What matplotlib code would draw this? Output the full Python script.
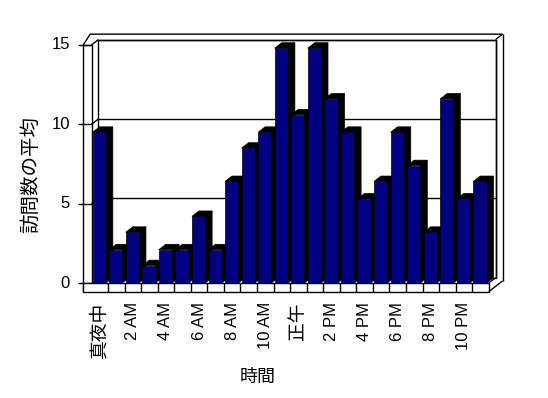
import matplotlib.pyplot as plt
from matplotlib.patches import Polygon, Rectangle

# data
hours = list(range(24))
visits = [9.5, 2.1, 3.2, 1.1, 2.1, 2.1, 4.2, 2.1, 6.4, 8.5, 9.5, 14.8,
          10.6, 14.8, 11.6, 9.5, 5.3, 6.4, 9.5, 7.4, 3.2, 11.6, 5.3, 6.4]
hour_labels = ['真夜中', '2 AM', '4 AM', '6 AM', '8 AM', '10 AM',
               '正午', '2 PM', '4 PM', '6 PM', '8 PM', '10 PM']
yticks = [0, 5, 10, 15]

plt.rcParams['font.family'] = ['Liberation Sans Narrow', 'Liberation Sans', 'Noto Sans CJK JP']

# pixel mapping of the front plane (category units / value units)
W, H = 548, 398
X0, SX = 91.5, 16.55
Y0, SY = 283.0, 15.87
xlim = (-0.6, 25.0)
ylim = (-0.7, 16.0)
left = (X0 + SX * xlim[0]) / W
right = (X0 + SX * xlim[1]) / W
top = (Y0 - SY * ylim[1])
bottom = (Y0 - SY * ylim[0])

fig = plt.figure(figsize=(W / 100, H / 100), dpi=100)
ax = fig.add_axes([left, 1 - bottom / H, right - left, (bottom - top) / H])
ax.set_xlim(*xlim)
ax.set_ylim(*ylim)
ax.axis('off')

dx, dy = 0.42, 0.34   # depth step
n = len(hours)
ymax = 15
fthk = 0.55          # floor thickness
lw = 1.0
k = dict(color='black', lw=lw, clip_on=False, solid_capstyle='butt')

# back wall
ax.add_patch(Rectangle((dx, dy), n, ymax, fc='white', ec='black', lw=lw, zorder=1))
for v in yticks[1:]:
    ax.plot([dx, n + dx], [v + dy, v + dy], zorder=1.5, **k)
    ax.plot([0, dx], [v, v + dy], zorder=1.5, **k)
# outer wall edges
ax.plot([-0.5, -0.5 + dx, n + 2 * dx], [ymax, ymax + 2 * dy, ymax + 2 * dy], zorder=1, **k)
ax.plot([n + dx, n + 2 * dx], [ymax + dy, ymax + 2 * dy], zorder=1, **k)
ax.plot([n + 2 * dx, n + 2 * dx], [ymax + 2 * dy, -fthk + 2 * dy], zorder=1, **k)
ax.plot([n + dx, n + dx], [ymax + dy, dy], zorder=1, **k)

# left wall
ax.plot([-0.5, -0.5], [-fthk, ymax], zorder=1, **k)
ax.plot([0, 0], [0, ymax], zorder=1, **k)
ax.plot([-0.5, 0], [ymax, ymax], zorder=1, **k)
for v in yticks:
    ax.plot([-0.8, 0], [v, v], zorder=1, **k)
    ax.text(-1.3, v, str(v), ha='right', va='center', fontsize=12)

# floor
ax.add_patch(Rectangle((-0.5, -fthk), n + 0.5, fthk, fc='white', ec='black', lw=lw,
                       zorder=2, clip_on=False))
for i in range(1, n):
    ax.plot([i, i], [-fthk, 0], zorder=2, **k)
ax.plot([n, n + 2 * dx], [-fthk, -fthk + 2 * dy], zorder=2, **k)
ax.plot([n, n + dx], [0, dy], zorder=2, **k)

# bars
bw = 0.8
for i, v in zip(hours, visits):
    x0 = i + 0.07
    x1 = x0 + bw
    z = 3 + i * 0.01
    ax.add_patch(Polygon([(x1, 0), (x1 + dx, dy), (x1 + dx, v + dy), (x1, v)],
                         closed=True, fc='black', ec='black', lw=0.5, zorder=z))
    ax.add_patch(Polygon([(x0, v), (x0 + dx, v + dy), (x1 + dx, v + dy), (x1, v)],
                         closed=True, fc='black', ec='black', lw=0.5, zorder=z))
    ax.add_patch(Rectangle((x0, 0), bw, v, fc='#000080', ec='black', lw=0.5, zorder=z))

# category labels
for j, lab in enumerate(hour_labels):
    cjk = lab in ('真夜中', '正午')
    ax.text(2 * j + 0.5, -1.2, lab, rotation=90, ha='center', va='top',
            fontsize=13.5 if cjk else 12)

fig.text(31 / W, 1 - 175 / H, '訪問数の平均', rotation=90, ha='center', va='center', fontsize=14)
fig.text(258 / W, 1 - 377 / H, '時間', ha='center', va='center', fontsize=13)

fig.savefig('out.png', dpi=100)
